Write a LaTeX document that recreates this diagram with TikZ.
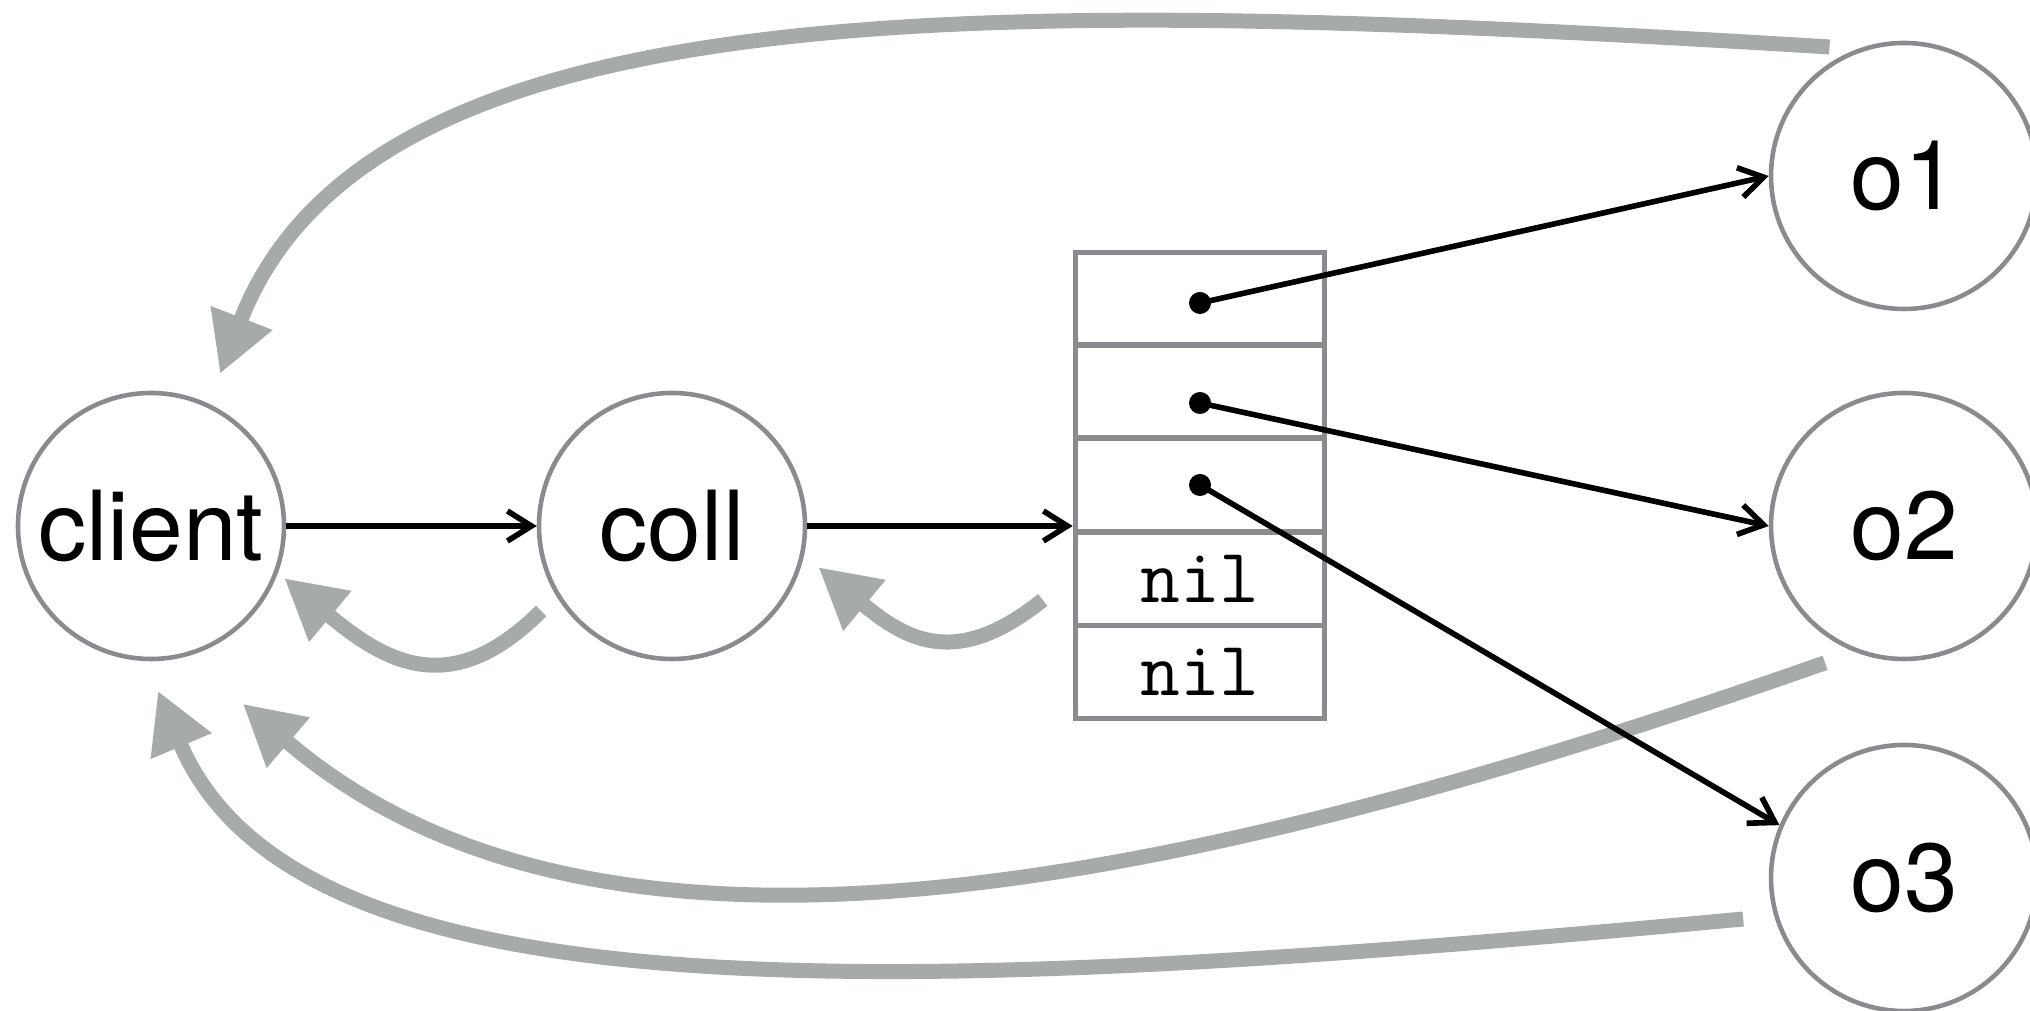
\documentclass[tikz,border=0pt]{standalone}
\usepackage{fontspec}
\setmainfont{TeX Gyre Heros}
\usetikzlibrary{arrows.meta}
\definecolor{ringgray}{HTML}{898B8F}
\definecolor{backgray}{HTML}{A6AAA8}

\begin{document}
\begin{tikzpicture}[
    obj/.style={circle, draw=ringgray, line width=1.3pt, minimum size=2.66cm, inner sep=0pt, font=\fontsize{27.5}{33}\selectfont},
    cell/.style={draw=ringgray, line width=1.6pt, minimum width=2.49cm, minimum height=0.93cm, inner sep=0pt, font=\fontsize{22}{24}\ttfamily},
    dot/.style={circle, fill=black, minimum size=0.22cm, inner sep=0pt},
    ptr/.style={-{Straight Barb[length=0.24cm, width=0.3cm]}, line width=1.6pt},
    back/.style={-{Triangle[length=0.6cm, width=0.62cm]}, draw=backgray, line width=0.15cm}
]
\useasboundingbox (0,0) rectangle (20.30,10.11);

\node[obj] (client) at (1.51,4.85) {client};
\node[obj] (coll) at (6.72,4.85) {coll};
\node[obj] (o1) at (19.04,8.35) {o1};
\node[obj] (o2) at (19.04,4.85) {o2};
\node[obj] (o3) at (19.04,1.33) {o3};

% the backing array
\node[cell] (cell1) at (12.00,7.12) {};
\node[cell] (cell2) at (12.00,6.195) {};
\node[cell] (cell3) at (12.00,5.26) {};
\node[cell] (cell4) at (12.00,4.32) {nil};
\node[cell] (cell5) at (12.00,3.39) {nil};

\node[dot] (d1) at (12.00,7.08) {};
\node[dot] (d2) at (12.00,6.08) {};
\node[dot] (d3) at (12.00,5.26) {};

% returns back to the caller
\draw[back] ([shift={(120:1.49)}]o1.center) .. controls +(-8.29,0.5) and +(1.51,3.91) .. ([shift={(65.6:1.67)}]client.center);
\draw[back] ([shift={(213:1.56)}]coll.center) .. controls +(-0.91,-0.91) and +(1.00,-0.83) .. ([shift={(-21.4:1.43)}]client.center);
\draw[back] ([shift={(-0.30,-0.21)}]cell4.west) .. controls +(-0.86,-0.69) and +(0.885,-0.736) .. ([shift={(-15.7:1.52)}]coll.center);
\draw[back] ([shift={(240:1.58)}]o2.center) .. controls +(-7.05,-2.475) and +(3.42,-2.925) .. ([shift={(-62.7:2.00)}]client.center);
\draw[back] ([shift={(194.3:1.66)}]o3.center) .. controls +(-8.47,-0.79) and +(1.40,-3.31) .. ([shift={(-87.6:1.65)}]client.center);

% references
\draw[ptr] (client) -- (coll);
\draw[ptr] (coll) -- (coll.east -| cell3.west);
\draw[ptr] (d1.center) -- (o1.west);
\draw[ptr] (d2.center) -- (o2.west);
\draw[ptr] (d3.center) -- (o3.157);
\end{tikzpicture}
\end{document}
